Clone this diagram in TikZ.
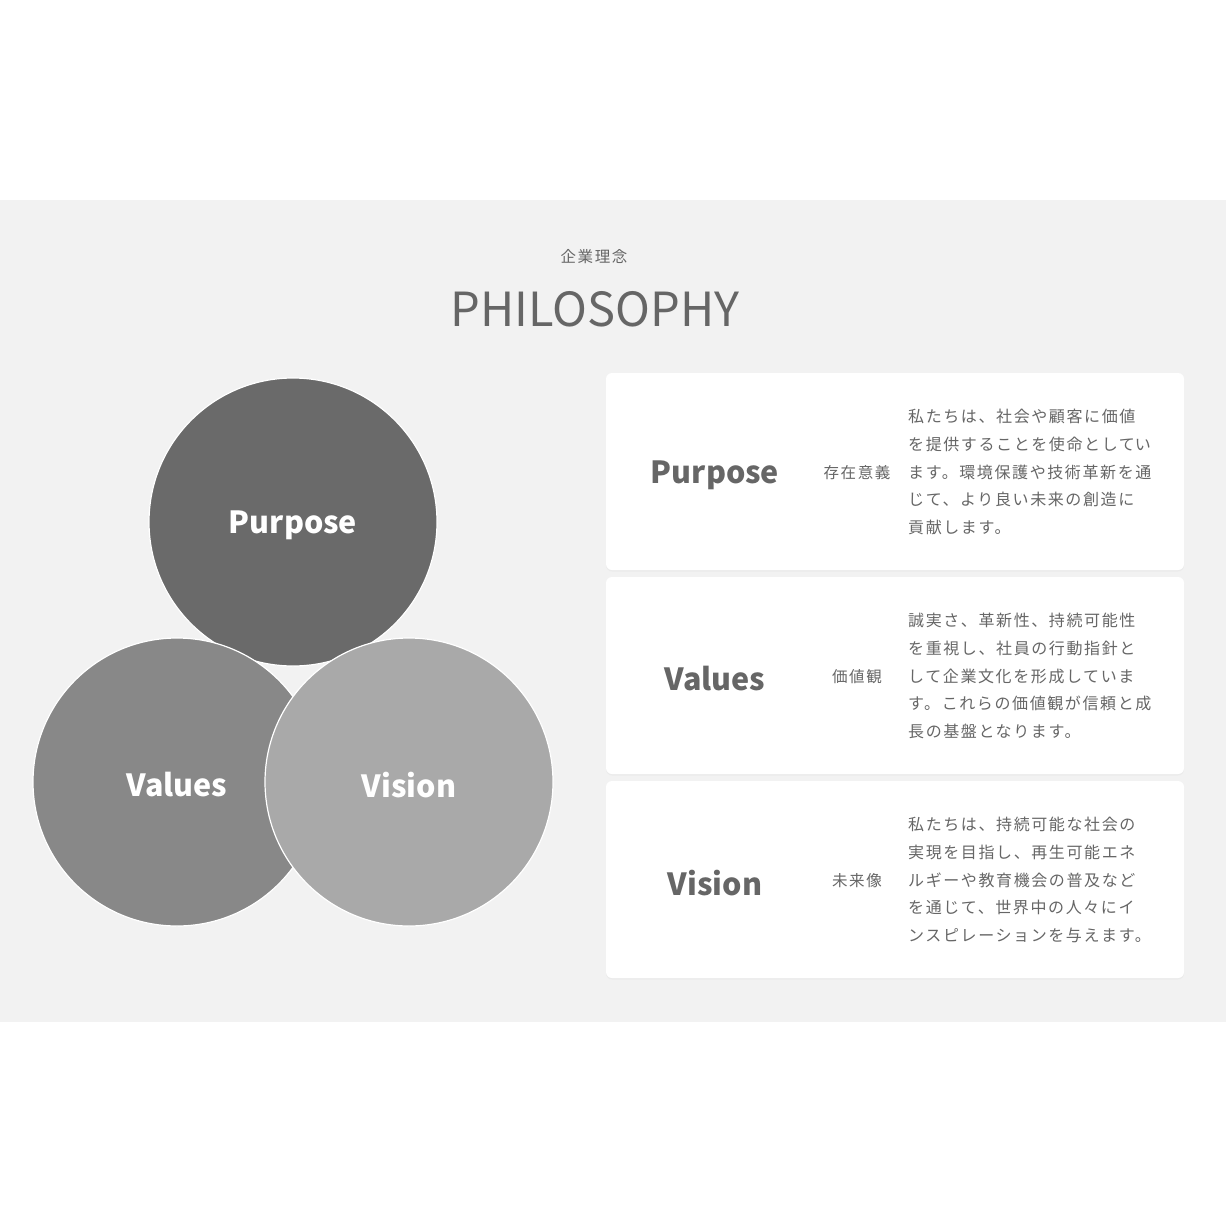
\documentclass[tikz,border=0pt]{standalone}
\usepackage{fontspec}
\setmainfont{Noto Sans CJK JP}
\newfontfamily\jpsp[LetterSpace=10]{Noto Sans CJK JP}
\usetikzlibrary{shadows}
\definecolor{bandbg}{HTML}{F2F2F2}
\definecolor{txt}{HTML}{666666}
\definecolor{cpurpose}{HTML}{6A6A6A}
\definecolor{cvalues}{HTML}{888888}
\definecolor{cvision}{HTML}{A9A9A9}
\tikzset{
  bigcircle/.style={circle, minimum size=288pt, inner sep=0pt, draw=white, line width=1.2pt},
  circlabel/.style={text=white, font=\fontsize{30.5}{36}\selectfont\bfseries},
  card/.style={rectangle, rounded corners=6pt, fill=white, minimum width=578pt, minimum height=197pt, inner sep=0pt,
    drop shadow={shadow xshift=0pt, shadow yshift=-1.5pt, opacity=0.06}},
  cardtitle/.style={text=txt, font=\fontsize{30.5}{36}\selectfont\bfseries},
  cardsub/.style={text=txt, font=\jpsp\fontsize{15.5}{18}\selectfont},
  cardbody/.style={text=txt, align=left, anchor=west, inner sep=0pt, font=\jpsp\fontsize{16}{27.6}\selectfont},
}
\begin{document}
\begin{tikzpicture}[x=1pt, y=-1pt]
\useasboundingbox (0,0) rectangle (1226,1226);
\fill[white] (0,0) rectangle (1226,1226);
\fill[bandbg] (0,200) rectangle (1226,1022);
% title
\node[text=txt, font=\jpsp\fontsize{15.5}{18}\selectfont] (sub) at (594,257) {企業理念};
\node[text=txt, font=\fontsize{47}{56}\selectfont] (title) at (595,309) {PHILOSOPHY};
% circles
\node[bigcircle, fill=cpurpose] (purpose) at (293,522) {};
\node[bigcircle, fill=cvalues] (values) at (177,782) {};
\node[bigcircle, fill=cvision] (vision) at (409,782) {};
\node[circlabel] (lp) at (293,525.5) {Purpose};
\node[circlabel] (lva) at (177,785) {Values};
\node[circlabel] (lvi) at (409,785) {Vision};
% cards
\node[card] (card1) at (895,471.5) {};
\node[card] (card2) at (895,675.5) {};
\node[card] (card3) at (895,879.5) {};
% card 1
\node[cardtitle] (t1) at (715,475.5) {Purpose};
\node[cardsub] (s1) at (857,473) {存在意義};
\node[cardbody] (b1) at (908,472) {私たちは、社会や顧客に価値\\を提供することを使命として\rlap{い}\\ます。環境保護や技術革新を通\\じて、より良い未来の創造に\\貢献します。};
% card 2
\node[cardtitle] (t2) at (715,679) {Values};
\node[cardsub] (s2) at (857,677) {価値観};
\node[cardbody] (b2) at (908,676) {誠実さ、革新性、持続可能性\\を重視し、社員の行動指針と\\して企業文化を形成していま\\す。これらの価値観が信頼と成\\長の基盤となります。};
% card 3
\node[cardtitle] (t3) at (715,883) {Vision};
\node[cardsub] (s3) at (857,881) {未来像};
\node[cardbody] (b3) at (908,880) {私たちは、持続可能な社会の\\実現を目指し、再生可能エネ\\ルギーや教育機会の普及など\\を通じて、世界中の人々にイ\\ンスピレーションを与えます。};
\end{tikzpicture}
\end{document}
